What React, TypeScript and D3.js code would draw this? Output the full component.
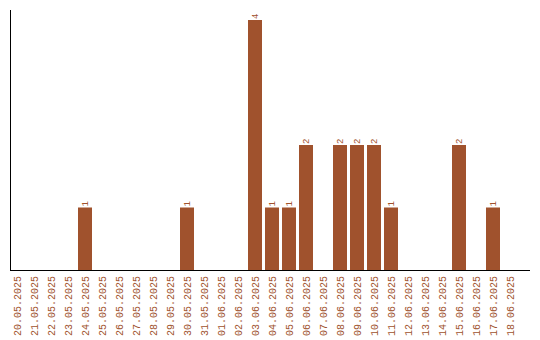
import React from "react";
import * as d3 from "d3";

const dates = [
  "20.05.2025","21.05.2025","22.05.2025","23.05.2025","24.05.2025","25.05.2025",
  "26.05.2025","27.05.2025","28.05.2025","29.05.2025","30.05.2025","31.05.2025",
  "01.06.2025","02.06.2025","03.06.2025","04.06.2025","05.06.2025","06.06.2025",
  "07.06.2025","08.06.2025","09.06.2025","10.06.2025","11.06.2025","12.06.2025",
  "13.06.2025","14.06.2025","15.06.2025","16.06.2025","17.06.2025","18.06.2025",
];
const counts = [0,0,0,0,1,0,0,0,0,0,1,0,0,0,4,1,1,2,0,2,2,2,1,0,0,0,2,0,1,0];

const W = 540, H = 340;
const COLOR = "#a0522d";
const FONT = "'Liberation Mono', 'DejaVu Sans Mono', monospace";

export default function App() {
  const x = d3.scaleBand<string>().domain(dates).range([8.5, 8.5 + 17 * dates.length]).paddingInner(3 / 17).paddingOuter(1.5 / 17);
  const y = d3.scaleLinear().domain([0, 4]).range([270, 20]);
  const bw = x.bandwidth();
  return (
    <svg width={W} height={H} style={{ position: "absolute", left: 0, top: 0 }}>
      {dates.map((d, i) => counts[i] > 0 ? (
        <rect key={d} x={x(d)} y={y(counts[i])} width={bw} height={y(0) - y(counts[i])} fill={COLOR} />
      ) : null)}
      {dates.map((d, i) => counts[i] > 0 ? (
        <text key={"v" + d} transform={`translate(${(x(d) as number) + bw / 2 + 3},${y(counts[i]) - 1}) rotate(-90)`}
          fontFamily={FONT} fontSize={9} fill={COLOR} textAnchor="start">{counts[i]}</text>
      ) : null)}
      <line x1={10.5} x2={10.5} y1={10} y2={270} stroke="#000" />
      <line x1={10} x2={530} y1={270.5} y2={270.5} stroke="#000" />
      {dates.map((d) => (
        <text key={"t" + d} transform={`translate(${(x(d) as number) + bw / 2 + 4},276) rotate(-90)`}
          fontFamily={FONT} fontSize={10} fill={COLOR} textAnchor="end">{d}</text>
      ))}
    </svg>
  );
}
